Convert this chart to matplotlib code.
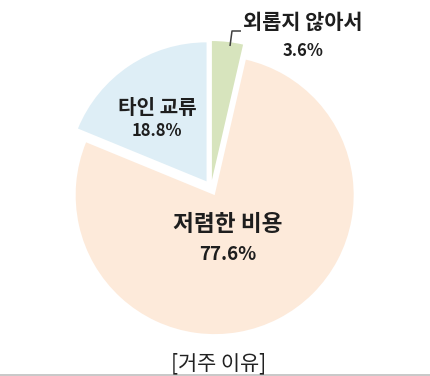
import matplotlib
matplotlib.use('Agg')
import matplotlib.pyplot as plt

plt.rcParams['font.family'] = ['Noto Sans CJK KR', 'DejaVu Sans']

# data (clockwise from the top)
labels = ['외롭지 않아서', '저렴한 비용', '타인 교류']
values = [3.6, 77.6, 18.8]
colors = ['#D7E4BD', '#FDEADA', '#DEEEF6']
title = '[거주 이유]'

W, H = 431, 376
fig = plt.figure(figsize=(W / 100, H / 100), dpi=100)
ax = fig.add_axes([0, 0, 1, 1])


def py(y):
    # pixel row (from top) -> data y
    return H - y


ax.pie(values, colors=colors, startangle=90, counterclock=False,
       explode=[8, 8, 8], center=(211, py(188)), radius=139,
       wedgeprops=dict(linewidth=0), frame=True)
ax.set_xlim(0, W)
ax.set_ylim(0, H)
ax.axis('off')

txt = '#1e1e1e'
# 저렴한 비용
ax.text(228, py(225), labels[1], ha='center', va='center', fontsize=16.3,
        fontweight='bold', color=txt)
ax.text(228, py(254), f'{values[1]}%', ha='center', va='center', fontsize=13.5,
        fontweight='bold', color=txt)
# 타인 교류
ax.text(157, py(107), labels[2], ha='center', va='center', fontsize=14.5,
        fontweight='bold', color=txt)
ax.text(157, py(131), f'{values[2]}%', ha='center', va='center', fontsize=12,
        fontweight='bold', color=txt)
# 외롭지 않아서 (outside, with leader line)
ax.text(303, py(22), labels[0], ha='center', va='center', fontsize=15,
        fontweight='bold', color=txt)
ax.text(303, py(51), f'{values[0]}%', ha='center', va='center', fontsize=12,
        fontweight='bold', color=txt)
ax.plot([230, 232, 241], [py(46), py(31), py(31)], color='#404040', lw=1.1,
        solid_capstyle='butt')

# title below the pie
ax.text(219, py(363), title, ha='center', va='center', fontsize=15,
        color='#222222')

# thin grey rule at the bottom edge
ax.plot([0, W], [py(375), py(375)], color='#BFBFBF', lw=1.2)

fig.savefig('out.png', dpi=100)
